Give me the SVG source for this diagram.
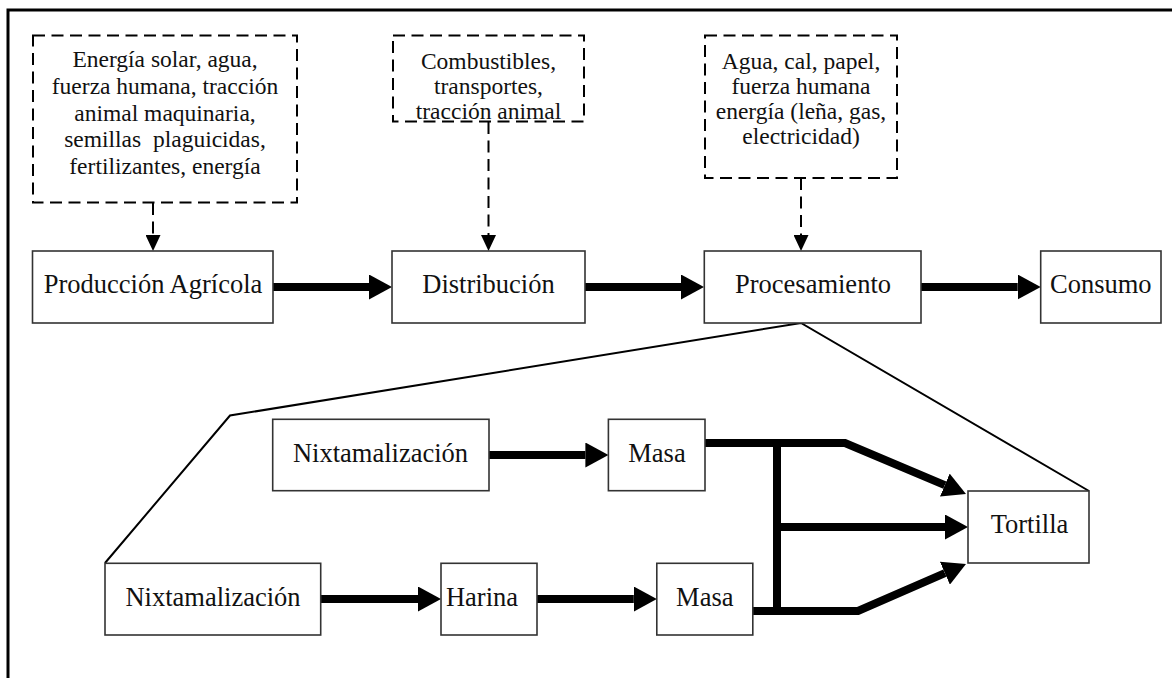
<svg xmlns="http://www.w3.org/2000/svg" width="1172" height="678" viewBox="0 0 1172 678">
  <style>
    .frame { fill: none; stroke: #000; stroke-width: 3; }
    .box { fill: #fff; stroke: #333; stroke-width: 1.6; }
    .input { fill: #fff; stroke: #000; stroke-width: 2; stroke-dasharray: 12 6.5; }
    .label { font-family: "Liberation Serif", "Times New Roman", serif; font-size: 26.5px; fill: #111; text-anchor: middle; }
    .small { font-family: "Liberation Serif", "Times New Roman", serif; font-size: 23.5px; fill: #111; text-anchor: middle; }
    .flow { fill: none; stroke: #000; stroke-width: 8; stroke-linejoin: miter; stroke-linecap: butt; }
    .feed { fill: none; stroke: #000; stroke-width: 2; stroke-dasharray: 12 6.5; }
    .zoomline { fill: none; stroke: #000; stroke-width: 2; stroke-linejoin: miter; }
  </style>
  <defs>
    <marker id="head" markerUnits="userSpaceOnUse" viewBox="0 -12.5 23 25" refX="0" refY="0" markerWidth="23" markerHeight="25" orient="auto">
      <path d="M0,-12.5 L23,0 L0,12.5 Z" fill="#000"/>
    </marker>
    <marker id="headSmall" markerUnits="userSpaceOnUse" viewBox="0 -7.5 16 15" refX="0" refY="0" markerWidth="16" markerHeight="15" orient="auto">
      <path d="M0,-7.5 L16,0 L0,7.5 Z" fill="#000"/>
    </marker>
  </defs>

  <rect x="0" y="0" width="1172" height="678" fill="#fff"/>
  <path class="frame" d="M8,678 V10 H1172"/>

  <!-- detail outline of the processing stage -->
  <path class="zoomline" d="M105,563 L230,415.5 L801,323 L1089,491"/>

  <!-- connectors -->
  <g id="connectors">
    <path class="feed" d="M153,203 V235" marker-end="url(#headSmall)"/>
    <path class="feed" d="M488.5,122 V235" marker-end="url(#headSmall)"/>
    <path class="feed" d="M801,178 V235" marker-end="url(#headSmall)"/>

    <path class="flow" d="M273,287 H369" marker-end="url(#head)"/>
    <path class="flow" d="M585,287 H681" marker-end="url(#head)"/>
    <path class="flow" d="M921,287 H1017.7" marker-end="url(#head)"/>

    <path class="flow" d="M489,455 H585.4" marker-end="url(#head)"/>
    <path class="flow" d="M321,599 H418" marker-end="url(#head)"/>
    <path class="flow" d="M537,599 H633.8" marker-end="url(#head)"/>

    <path class="flow" d="M705,443 H845 L944.8,485.1" marker-end="url(#head)"/>
    <path class="flow" d="M752.7,611 H858 L944.9,573.2" marker-end="url(#head)"/>
    <path class="flow" d="M777,443 V611"/>
    <path class="flow" d="M777,527 H945" marker-end="url(#head)"/>
  </g>

  <!-- inputs -->
  <g id="input-agricola">
    <rect class="input" x="33" y="35.5" width="264" height="167"/>
    <text class="small" x="165" y="67">Energía solar, agua,</text>
    <text class="small" x="165" y="94">fuerza humana, tracción</text>
    <text class="small" x="165" y="120.5">animal maquinaria,</text>
    <text class="small" x="165" y="147" xml:space="preserve">semillas  plaguicidas,</text>
    <text class="small" x="165" y="174">fertilizantes, energía</text>
  </g>
  <g id="input-distribucion">
    <rect class="input" x="393" y="35.5" width="191" height="86"/>
    <text class="small" x="488.5" y="68.5">Combustibles,</text>
    <text class="small" x="488.5" y="94">transportes,</text>
    <text class="small" x="488.5" y="119">tracción animal</text>
  </g>
  <g id="input-procesamiento">
    <rect class="input" x="705" y="35.5" width="192" height="142.5"/>
    <text class="small" x="801" y="68.5">Agua, cal, papel,</text>
    <text class="small" x="801" y="93.5">fuerza humana</text>
    <text class="small" x="801" y="118.7">energía (leña, gas,</text>
    <text class="small" x="801" y="144">electricidad)</text>
  </g>

  <!-- main chain -->
  <g id="produccion">
    <rect class="box" x="32.5" y="251" width="240.5" height="72"/>
    <text class="label" x="153" y="293.3">Producción Agrícola</text>
  </g>
  <g id="distribucion">
    <rect class="box" x="392" y="251" width="193" height="72"/>
    <text class="label" x="488.5" y="293.3">Distribución</text>
  </g>
  <g id="procesamiento">
    <rect class="box" x="704.3" y="251" width="216.7" height="72"/>
    <text class="label" x="813" y="293.3">Procesamiento</text>
  </g>
  <g id="consumo">
    <rect class="box" x="1040.7" y="251" width="120.3" height="72"/>
    <text class="label" x="1100.8" y="293.3">Consumo</text>
  </g>

  <!-- processing detail -->
  <g id="nixtamalizacion-1">
    <rect class="box" x="272.7" y="419.3" width="216.3" height="71.4"/>
    <text class="label" x="380.5" y="461.7">Nixtamalización</text>
  </g>
  <g id="masa-1">
    <rect class="box" x="608.4" y="419.3" width="96.6" height="71.4"/>
    <text class="label" x="657" y="461.7">Masa</text>
  </g>
  <g id="nixtamalizacion-2">
    <rect class="box" x="105" y="563.3" width="215.7" height="71.7"/>
    <text class="label" x="213" y="605.5">Nixtamalización</text>
  </g>
  <g id="harina">
    <rect class="box" x="441" y="563.3" width="96" height="71.7"/>
    <text class="label" x="482" y="605.5">Harina</text>
  </g>
  <g id="masa-2">
    <rect class="box" x="656.8" y="563.3" width="96" height="71.7"/>
    <text class="label" x="704.8" y="605.5">Masa</text>
  </g>
  <g id="tortilla">
    <rect class="box" x="968" y="491" width="121" height="72"/>
    <text class="label" x="1029.5" y="533.3">Tortilla</text>
  </g>
</svg>
